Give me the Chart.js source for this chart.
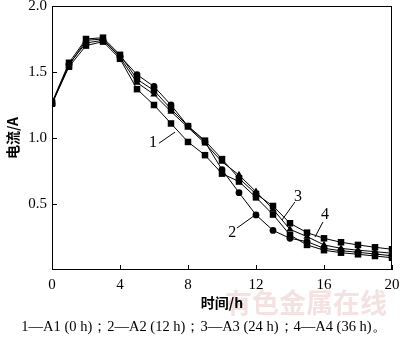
<!DOCTYPE html>
<html>
<head>
<meta charset="utf-8">
<script src="https://cdn.jsdelivr.net/npm/chart.js@4.4.1/dist/chart.umd.min.js"></script>
<style>
  html, body { margin: 0; padding: 0; background: #fff; }
  #wrap { width: 400px; height: 340px; position: relative; }
</style>
</head>
<body>
<div id="wrap"><canvas id="current-chart" width="400" height="340"></canvas></div>
<script>
// Tiempo (h)
const hours = [0, 1, 2, 3, 4, 5, 6, 7, 8, 9, 10, 11, 12, 13, 14, 15, 16, 17, 18, 19, 20];

// Corriente (A) por muestra
const seriesA1 = [1.26, 1.54, 1.70, 1.73, 1.60, 1.37, 1.25, 1.11, 0.97, 0.87, 0.73, 0.67, 0.55, 0.42, 0.265, 0.19, 0.15, 0.131, 0.119, 0.106, 0.093];
const seriesA2 = [1.26, 1.56, 1.72, 1.74, 1.62, 1.48, 1.39, 1.25, 1.09, 0.97, 0.76, 0.586, 0.417, 0.30, 0.24, 0.215, 0.164, 0.146, 0.134, 0.121, 0.108];
const seriesA3 = [1.26, 1.55, 1.74, 1.75, 1.61, 1.42, 1.33, 1.20, 1.08, 0.96, 0.82, 0.72, 0.593, 0.46, 0.308, 0.253, 0.19, 0.164, 0.15, 0.139, 0.127];
const seriesA4 = [1.27, 1.57, 1.75, 1.76, 1.63, 1.445, 1.36, 1.22, 1.09, 0.98, 0.84, 0.695, 0.576, 0.485, 0.354, 0.283, 0.24, 0.21, 0.19, 0.172, 0.157];

const seriesNames = ['1', '2', '3', '4'];
const xTicks = [0, 4, 8, 12, 16, 20];
const yTicks = [0.5, 1.0, 1.5, 2.0];

// Etiquetas numeradas con su línea guía (coordenadas en datos: h, A)
const calloutText = ['1', '2', '3', '4'];
const calloutAt = [[5.94, 0.96], [10.6, 0.28], [14.47, 0.553], [16.06, 0.417]];
const calloutFrom = [[6.29, 0.96], [10.88, 0.318], [14.29, 0.515], [15.94, 0.364]];
const calloutTo = [[7.24, 1.045], [11.88, 0.41], [13.53, 0.379], [15.47, 0.25]];

const xTitle = '时间/h';
const yTitle = '电流/A';
const caption = '1—A1 (0 h)；2—A2 (12 h)；3—A3 (24 h)；4—A4 (36 h)。';
const watermark = '有色金属在线';

const serif = '"Liberation Serif", "Times New Roman", serif';
const cjk = '"Noto Sans CJK SC", "Noto Sans", sans-serif';

function toPoints(values) {
    return hours.map((h, i) => ({ x: h, y: values[i] }));
}

const styles = ['rect', 'circle', 'triangle', 'rect'];
const radii = [4.6, 3.4, 4.2, 4.6];
const allSeries = [seriesA1, seriesA2, seriesA3, seriesA4];

const datasets = allSeries.map((s, i) => ({
    label: seriesNames[i],
    data: toPoints(s),
    borderColor: '#000',
    backgroundColor: '#000',
    borderWidth: 1,
    pointStyle: styles[i],
    pointRadius: radii[i],
    pointBorderWidth: 0,
    tension: 0
}));

// Marco, marcas interiores, textos y anotaciones
const decorations = {
    id: 'decorations',
    afterDraw(chart) {
        const { ctx, chartArea: a, scales } = chart;
        const xs = scales.x, ys = scales.y;
        ctx.save();
        ctx.strokeStyle = '#000';
        ctx.lineWidth = 1;
        ctx.strokeRect(a.left + 0.5, a.top + 0.5, a.right - a.left - 1, a.bottom - a.top - 1);

        ctx.beginPath();
        yTicks.forEach(v => {
            const y = Math.round(ys.getPixelForValue(v)) + 0.5;
            ctx.moveTo(a.left, y);
            ctx.lineTo(a.left + 5, y);
        });
        xTicks.forEach(v => {
            const x = Math.round(xs.getPixelForValue(v)) + 0.5;
            ctx.moveTo(x, a.bottom);
            ctx.lineTo(x, a.bottom - 5);
        });
        ctx.stroke();

        // Anotaciones
        ctx.fillStyle = '#000';
        ctx.font = '16px ' + serif;
        ctx.textAlign = 'center';
        ctx.textBaseline = 'middle';
        calloutText.forEach((t, i) => {
            ctx.fillText(t, xs.getPixelForValue(calloutAt[i][0]), ys.getPixelForValue(calloutAt[i][1]));
            ctx.beginPath();
            ctx.moveTo(xs.getPixelForValue(calloutFrom[i][0]), ys.getPixelForValue(calloutFrom[i][1]));
            ctx.lineTo(xs.getPixelForValue(calloutTo[i][0]), ys.getPixelForValue(calloutTo[i][1]));
            ctx.stroke();
        });

        // Título eje Y
        ctx.save();
        ctx.translate(13, (a.top + a.bottom) / 2);
        ctx.rotate(-Math.PI / 2);
        ctx.font = 'bold 14px ' + cjk;
        ctx.fillText(yTitle, 0, 0);
        ctx.restore();

        // Marca de agua
        ctx.font = 'bold 27px ' + cjk;
        ctx.fillStyle = 'rgba(205, 120, 120, 0.22)';
        ctx.fillText(watermark, 306, 303);

        // Título eje X y pie
        ctx.fillStyle = '#000';
        ctx.font = 'bold 14px ' + cjk;
        ctx.fillText(xTitle, (a.left + a.right) / 2, 303);
        ctx.font = '14.5px ' + serif;
        ctx.fillText(caption, 204, 327);
        ctx.restore();
    }
};

const ctx = document.getElementById('current-chart').getContext('2d');
new Chart(ctx, {
    type: 'line',
    data: { datasets: datasets },
    options: {
        responsive: false,
        animation: false,
        layout: { padding: { top: 6, right: 8, left: 0, bottom: 0 } },
        plugins: {
            legend: { display: false },
            tooltip: { enabled: false }
        },
        scales: {
            x: {
                type: 'linear',
                min: 0,
                max: 20,
                afterFit: scale => {
                    scale.height = 70;
                    scale.paddingLeft = 0;
                    scale.paddingRight = 0;
                },
                afterBuildTicks: scale => { scale.ticks = xTicks.map(v => ({ value: v })); },
                grid: { display: false, drawTicks: false },
                border: { display: false },
                ticks: {
                    color: '#000',
                    padding: 6,
                    maxRotation: 0,
                    font: { family: serif, size: 15 }
                }
            },
            y: {
                min: 0,
                max: 2.0,
                afterFit: scale => {
                    scale.width = 52;
                    scale.paddingTop = 0;
                    scale.paddingBottom = 0;
                },
                afterBuildTicks: scale => { scale.ticks = [0, ...yTicks].map(v => ({ value: v })); },
                grid: { display: false, drawTicks: false },
                border: { display: false },
                ticks: {
                    color: '#000',
                    padding: 5,
                    font: { family: serif, size: 15 },
                    callback: v => (v === 0 ? '' : v.toFixed(1))
                }
            }
        }
    },
    plugins: [decorations]
});
</script>
</body>
</html>
